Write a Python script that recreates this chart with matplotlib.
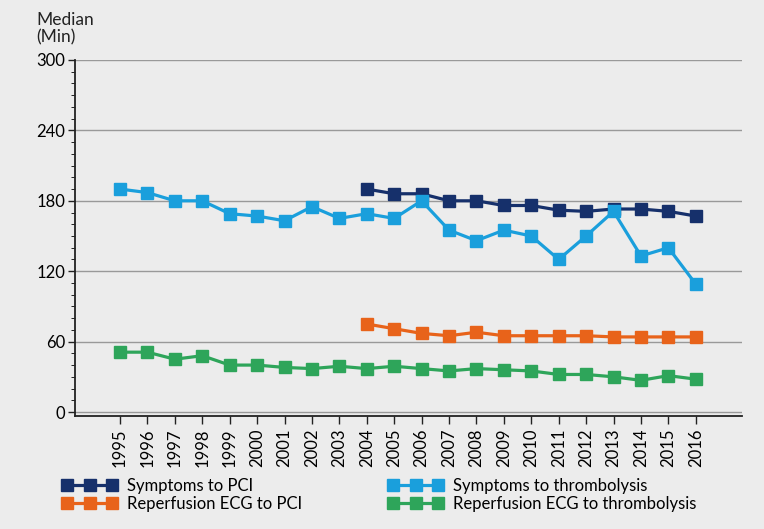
import matplotlib.pyplot as plt
from matplotlib.ticker import MultipleLocator

plt.rcParams['font.family'] = ['Lato', 'DejaVu Sans']

years = list(range(1995, 2017))
years_pci = list(range(2004, 2017))

symptoms_pci = [190, 186, 186, 180, 180, 176, 176, 172, 171, 173, 173, 171, 167]
symptoms_thromb = [190, 187, 180, 180, 169, 167, 163, 175, 165, 169, 165, 180,
                   155, 146, 155, 150, 130, 150, 171, 133, 140, 109]
ecg_pci = [75, 71, 67, 65, 68, 65, 65, 65, 65, 64, 64, 64, 64]
ecg_thromb = [51, 51, 45, 48, 40, 40, 38, 37, 39, 37, 39, 37,
              35, 37, 36, 35, 32, 32, 30, 27, 31, 28]

bg = '#ececec'
fig = plt.figure(figsize=(7.64, 5.29), dpi=100, facecolor=bg)
ax = fig.add_axes([0.0982, 0.2136, 0.8728, 0.673])
ax.set_facecolor(bg)

kw = dict(marker='s', markersize=8, linewidth=2.3)
l1, = ax.plot(years_pci, symptoms_pci, color='#16306b', label='Symptoms to PCI', **kw)
l2, = ax.plot(years, symptoms_thromb, color='#1a9fdc', label='Symptoms to thrombolysis', **kw)
l3, = ax.plot(years_pci, ecg_pci, color='#e8631a', label='Reperfusion ECG to PCI', **kw)
l4, = ax.plot(years, ecg_thromb, color='#2ea55a', label='Reperfusion ECG to thrombolysis', **kw)

ax.set_ylim(-3.4, 300)
ax.set_xlim(1993.36, 2017.68)
ax.yaxis.set_major_locator(MultipleLocator(60))
ax.yaxis.set_minor_locator(MultipleLocator(10))
ax.set_xticks(years)
ax.set_xticklabels([str(y) for y in years], rotation=90)
ax.tick_params(axis='both', labelsize=12, color='#222222', width=1)
ax.tick_params(axis='y', which='major', length=5, pad=2)
ax.tick_params(axis='y', which='minor', length=3)
ax.tick_params(axis='x', length=6, pad=3)

ax.grid(axis='y', which='major', color='#999999', linewidth=1)
ax.set_axisbelow(True)
for s in ['top', 'right']:
    ax.spines[s].set_visible(False)
ax.spines['left'].set_color('#222222')
ax.spines['bottom'].set_color('#222222')
ax.spines['left'].set_linewidth(1.3)
ax.spines['bottom'].set_linewidth(1.3)

fig.text(0.048, 0.915, 'Median\n(Min)', fontsize=12.5, va='bottom', ha='left',
         linespacing=1.1, color='#222222')

fig.legend([l1, l3, l2, l4],
           [l1.get_label(), l3.get_label(), l2.get_label(), l4.get_label()],
           ncol=2, loc='upper left', bbox_to_anchor=(0.0815, 0.096),
           frameon=False, fontsize=12, numpoints=3, handlelength=3.3,
           handletextpad=0.6, columnspacing=5.15, labelspacing=0.1,
           borderaxespad=0, borderpad=0)

fig.savefig('out.png', dpi=100, facecolor=bg)
